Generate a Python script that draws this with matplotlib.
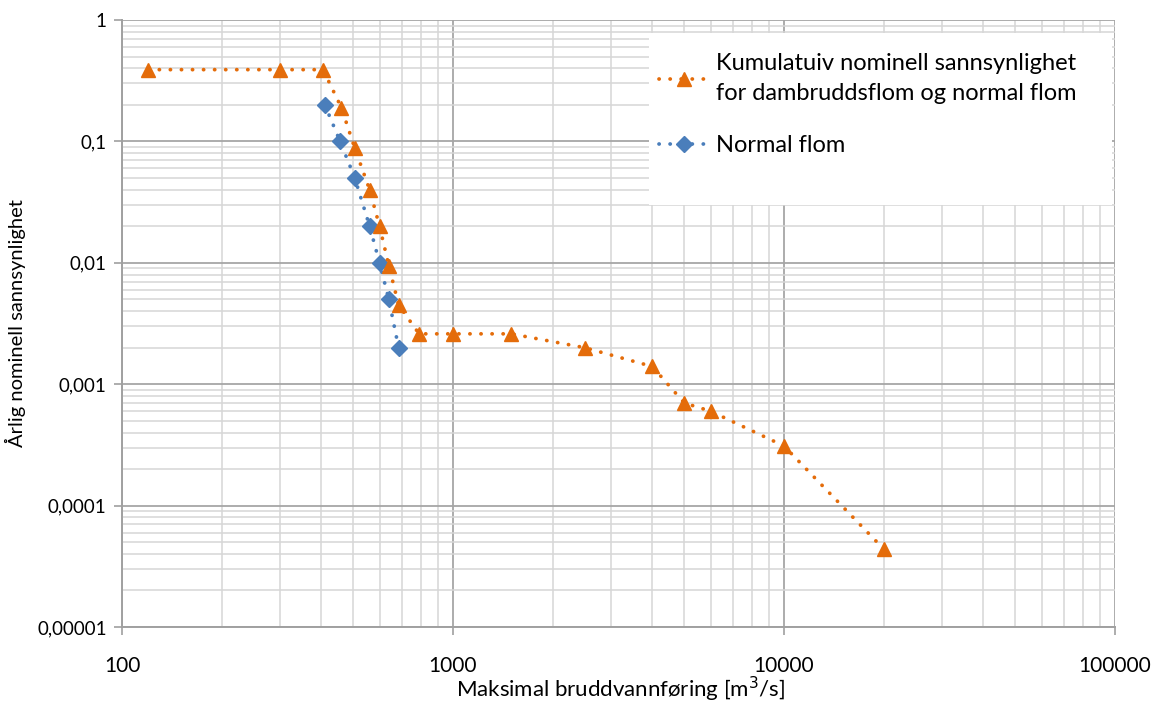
import numpy as np
import matplotlib
matplotlib.use('Agg')
import matplotlib.pyplot as plt
from matplotlib.patches import Rectangle
from matplotlib.ticker import LogLocator, FixedLocator, FixedFormatter, NullFormatter

plt.rcParams['font.family'] = ['Lato', 'DejaVu Sans']

# Kumulativ nominell sannsynlighet (dambrudd + normal flom)
kum_q = [120, 300, 405, 460, 505, 560, 600, 640, 685, 790, 1000, 1500, 2500, 4000, 5000, 6000, 10000, 20000]
kum_p = [0.39, 0.39, 0.39, 0.19, 0.088, 0.04, 0.02, 0.0095, 0.0045, 0.0026, 0.0026, 0.0026,
         0.002, 0.0014, 0.0007, 0.0006, 0.00031, 0.000044]

# Normal flom
norm_q = [410, 456, 505, 560, 600, 640, 685]
norm_p = [0.2, 0.1, 0.05, 0.02, 0.01, 0.005, 0.002]

x_ticks = [100, 1000, 10000, 100000]
x_labels = ['100', '1000', '10000', '100000']
y_ticks = [1e-5, 1e-4, 1e-3, 1e-2, 1e-1, 1]
y_labels = ['0,00001', '0,0001', '0,001', '0,01', '0,1', '1']

orange = '#E46C0A'
blue = '#4A7EBB'

fig = plt.figure(figsize=(11.53, 7.02), dpi=100)
ax = fig.add_axes([0.1058, 0.1068, 0.967 - 0.1058, 0.9715 - 0.1068])
ax.set_xscale('log')
ax.set_yscale('log')
ax.set_xlim(100, 100000)
ax.set_ylim(1e-5, 1)

dots = (0, (0.05, 2.9))
l_norm, = ax.plot(norm_q, norm_p, color=blue, lw=2.7, linestyle=dots, dash_capstyle='round',
                  marker='D', markersize=8, markerfacecolor=blue, markeredgecolor=blue, zorder=3)
l_kum, = ax.plot(kum_q, kum_p, color=orange, lw=2.7, linestyle=dots, dash_capstyle='round',
                 marker='^', markersize=10, markerfacecolor=orange, markeredgecolor=orange, zorder=4)

# grid
ax.xaxis.set_major_locator(FixedLocator(x_ticks))
ax.xaxis.set_major_formatter(FixedFormatter(x_labels))
ax.yaxis.set_major_locator(FixedLocator(y_ticks))
ax.yaxis.set_major_formatter(FixedFormatter(y_labels))
ax.xaxis.set_minor_locator(LogLocator(base=10, subs=np.arange(2, 10), numticks=20))
ax.yaxis.set_minor_locator(LogLocator(base=10, subs=np.arange(2, 10), numticks=20))
ax.xaxis.set_minor_formatter(NullFormatter())
ax.yaxis.set_minor_formatter(NullFormatter())
ax.grid(which='major', color='#a6a6a6', lw=1.3, zorder=0)
ax.grid(which='minor', color='#d6d6d6', lw=1.1, zorder=0)
ax.set_axisbelow(True)

ax.tick_params(which='minor', length=0)
ax.tick_params(which='major', length=6, width=1.2, color='#a0a0a0', direction='out')
ax.tick_params(axis='x', pad=15, labelsize=15)
ax.tick_params(axis='y', pad=5, labelsize=13.5)

for s in ['top', 'right']:
    ax.spines[s].set_visible(False)
for s in ['left', 'bottom']:
    ax.spines[s].set_color('#a0a0a0')
    ax.spines[s].set_linewidth(1.4)

xl = ax.set_xlabel('Maksimal bruddvannføring [m$^3$/s]', fontsize=16)
xl.set_va('center')
ax.xaxis.set_label_coords(0.502, -0.103)
ax.set_ylabel('Årlig nominell sannsynlighet', fontsize=14.5, labelpad=8)

# white legend area covering the grid
ax.add_patch(Rectangle((0.531, 0.695), 0.466, 0.284, transform=ax.transAxes,
                       facecolor='white', edgecolor='none', zorder=5))

leg = ax.legend([l_kum, l_norm],
                ['Kumulatuiv nominell sannsynlighet\nfor dambruddsflom og normal flom', 'Normal flom'],
                loc='upper left', bbox_to_anchor=(0.541, 0.946), fontsize=17,
                frameon=False, handlelength=2.1, handletextpad=0.3, labelspacing=1.3,
                borderpad=0, borderaxespad=0)
leg.set_zorder(6)
for t in leg.get_texts():
    t.set_linespacing(1.55)

fig.savefig('out.png', dpi=100)
